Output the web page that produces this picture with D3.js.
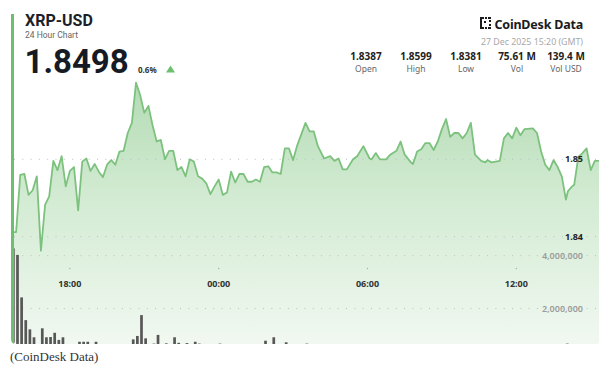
<!DOCTYPE html>
<html lang="en">
<head>
  <meta charset="UTF-8">
  <title>XRP-USD 24 Hour Chart</title>
  <script src="https://cdn.jsdelivr.net/npm/d3@7"></script>
  <style>
    html, body { margin: 0; padding: 0; background: #fff; }
    svg { display: block; font-family: "Noto Sans", "Open Sans", sans-serif; }
    .hdr { font-family: Roboto, "Noto Sans", sans-serif; }
  </style>
</head>
<body>
<div id="chart"></div>

<script>
// price, 10 min steps (26 Dec 15:40 -> 27 Dec 15:20 GMT)
const priceTimes = [
  "15:40","15:50","16:00","16:10","16:20","16:30","16:40","16:50","17:00","17:10","17:20","17:30","17:40","17:50",
  "18:00","18:10","18:20","18:30","18:40","18:50","19:00","19:10","19:20","19:30","19:40","19:50",
  "20:00","20:10","20:20","20:30","20:40","20:50","21:00","21:10","21:20","21:30","21:40","21:50",
  "22:00","22:10","22:20","22:30","22:40","22:50","23:00","23:10","23:20","23:30","23:40","23:50",
  "00:00","00:10","00:20","00:30","00:40","00:50","01:00","01:10","01:20","01:30","01:40","01:50",
  "02:00","02:10","02:20","02:30","02:40","02:50","03:00","03:10","03:30","03:40","03:50",
  "04:00","04:15","04:30","04:40","04:50","05:00","05:10","05:25","05:35","05:50",
  "06:05","06:10","06:20","06:30","06:45","06:55","07:10","07:20","07:30","07:45","07:50",
  "08:00","08:10","08:20","08:30","08:40","08:50","09:00","09:10","09:20","09:30","09:40","09:50",
  "10:00","10:10","10:20","10:35","10:45","10:50","11:00","11:20","11:30","11:40","11:50",
  "12:00","12:10","12:20","12:40","12:50","13:00","13:10","13:20","13:30","13:40","13:50",
  "14:00","14:05","14:15","14:20","14:30","14:40","14:50","15:00","15:10","15:20"
];
const prices = [
  1.8406,1.8406,1.8480,1.8481,1.8454,1.8460,1.8478,1.8382,1.8441,1.8452,1.8498,1.8486,1.8504,1.8465,
  1.8485,1.8490,1.8434,1.8497,1.8501,1.8485,1.8494,1.8484,1.8477,1.8493,1.8499,1.8493,
  1.8510,1.8511,1.8534,1.8547,1.8599,1.8583,1.8560,1.8569,1.8544,1.8523,1.8525,1.8500,
  1.8511,1.8511,1.8486,1.8490,1.8478,1.8500,1.8497,1.8478,1.8475,1.8469,1.8455,1.8465,
  1.8474,1.8454,1.8457,1.8484,1.8470,1.8481,1.8481,1.8471,1.8471,1.8474,1.8471,1.8490,
  1.8491,1.8483,1.8483,1.8481,1.8514,1.8514,1.8499,1.8518,1.8547,1.8536,1.8536,
  1.8517,1.8501,1.8504,1.8498,1.8501,1.8487,1.8487,1.8500,1.8504,1.8517,
  1.8501,1.8500,1.8508,1.8500,1.8500,1.8506,1.8511,1.8523,1.8506,1.8496,1.8494,
  1.8510,1.8513,1.8521,1.8521,1.8512,1.8523,1.8539,1.8552,1.8529,1.8534,1.8534,1.8527,
  1.8534,1.8547,1.8506,1.8498,1.8496,1.8499,1.8496,1.8498,1.8527,1.8534,1.8527,
  1.8541,1.8531,1.8539,1.8540,1.8534,1.8510,1.8493,1.8486,1.8499,1.8490,1.8478,
  1.8448,1.8459,1.8465,1.8467,1.8503,1.8508,1.8514,1.8486,1.8498,1.8498
];

// volume bars (only the ones that show above the frame)
const volTimes = [
  "15:40","15:50","16:00","16:10","16:20","16:30","16:50","17:00","17:10","17:20","17:30","17:40",
  "18:20","18:30","18:40","19:00","20:30","20:40","20:50","21:00","21:20","21:30","21:50",
  "22:10","22:20","22:40","23:00","23:10","00:00","01:50","02:10","02:40","03:30","14:00"
];
const volumes = [
  4280000,4030000,2420000,1560000,1210000,910000,1250000,910000,920000,1080000,810000,910000,
  740000,740000,740000,740000,830000,960000,1750000,870000,670000,1000000,680000,
  910000,700000,690000,740000,670000,670000,780000,910000,720000,670000,670000
];

const priceTicks = [1.84, 1.85];
const volTicks = [2000000, 4000000];
const timeTicks = ["18:00", "00:00", "06:00", "12:00"];

const statValues = ["1.8387", "1.8599", "1.8381", "75.61 M", "139.4 M"];
const statLabels = ["Open", "High", "Low", "Vol", "Vol USD"];

// turn "HH:MM" into dates, rolling over midnight
function toDates(list) {
  let day = new Date(Date.UTC(2025, 11, 26));
  let prev = -1;
  return list.map(s => {
    const [h, m] = s.split(":").map(Number);
    const mins = h * 60 + m;
    if (mins < prev) day = new Date(day.getTime() + 864e5);
    prev = mins;
    return new Date(day.getTime() + mins * 6e4);
  });
}
const pDates = toDates(priceTimes);
const vDates = toDates(["15:20"].concat(volTimes)).slice(1);
const tDates = toDates(["15:20"].concat(timeTicks)).slice(1);

const W = 600, H = 373;
const plot = { left: 14, right: 599, top: 14, bottom: 344 };

const svg = d3.select("#chart").append("svg")
  .attr("width", W)
  .attr("height", H);

svg.append("rect").attr("width", W).attr("height", H).attr("fill", "#fff");

const x = d3.scaleUtc().domain(d3.extent(pDates)).range([12, 599]);
const y = d3.scaleLinear().domain([1.84, 1.85]).range([236.7, 159.3]);
const yv = d3.scaleLinear().domain([0, 4000000]).range([361.3, 255.7]);

const defs = svg.append("defs");
defs.append("clipPath").attr("id", "plotclip")
  .append("rect")
  .attr("x", plot.left).attr("y", plot.top)
  .attr("width", plot.right - plot.left).attr("height", plot.bottom - plot.top)
  .attr("rx", 3);

const grad = defs.append("linearGradient")
  .attr("id", "areafill")
  .attr("gradientUnits", "userSpaceOnUse")
  .attr("x1", 0).attr("y1", 80).attr("x2", 0).attr("y2", plot.bottom);
grad.append("stop").attr("offset", "0%").attr("stop-color", "#b2dbb3");
grad.append("stop").attr("offset", "45%").attr("stop-color", "#d3ebd3");
grad.append("stop").attr("offset", "100%").attr("stop-color", "#f1f8f1");

const g = svg.append("g").attr("clip-path", "url(#plotclip)");

// area + line
const data = pDates.map((d, i) => ({ t: d, p: prices[i] }));

g.append("path")
  .datum(data)
  .attr("fill", "url(#areafill)")
  .attr("d", d3.area().x(d => x(d.t)).y0(plot.bottom).y1(d => y(d.p)));

// grid lines
const gridY = priceTicks.map(y).concat(volTicks.map(yv));
g.selectAll("line.grid")
  .data(gridY)
  .join("line")
  .attr("class", "grid")
  .attr("x1", plot.left).attr("x2", plot.right)
  .attr("y1", d => d).attr("y2", d => d)
  .attr("stroke", "#b9c2b9")
  .attr("stroke-width", 1)
  .attr("stroke-dasharray", "1,7.3");

// volume bars
g.selectAll("rect.vol")
  .data(volumes)
  .join("rect")
  .attr("class", "vol")
  .attr("x", (d, i) => x(vDates[i]))
  .attr("width", 2.7)
  .attr("y", d => yv(d))
  .attr("height", d => yv(0) - yv(d))
  .attr("fill", "#575757");

g.append("path")
  .datum(data)
  .attr("fill", "none")
  .attr("stroke", "#7cc27e")
  .attr("stroke-width", 1.8)
  .attr("stroke-linejoin", "round")
  .attr("d", d3.line().x(d => x(d.t)).y(d => y(d.p)));

// left accent bar
svg.append("path")
  .attr("d", "M11,14 H14 V344 H16 Q11,344 11,339 Z")
  .attr("fill", "#6dbf6f");

// axis labels
svg.selectAll("text.py")
  .data(priceTicks)
  .join("text")
  .attr("class", "py")
  .attr("x", 583).attr("y", d => y(d))
  .attr("dy", "0.35em")
  .attr("text-anchor", "end")
  .attr("font-size", 9).attr("font-weight", 700)
  .attr("fill", "#222")
  .text(d => d3.format(".2f")(d));

svg.selectAll("text.vy")
  .data(volTicks)
  .join("text")
  .attr("class", "vy")
  .attr("x", 583).attr("y", d => yv(d))
  .attr("dy", "0.35em")
  .attr("text-anchor", "end")
  .attr("font-size", 9).attr("font-weight", 600)
  .attr("fill", "#9c9c9c")
  .text(d => d3.format(",")(d));

svg.selectAll("circle.tick")
  .data(tDates)
  .join("circle")
  .attr("class", "tick")
  .attr("cx", d => x(d)).attr("cy", 268.5)
  .attr("r", 0.7)
  .attr("fill", "#aaa");

svg.selectAll("text.tx")
  .data(tDates)
  .join("text")
  .attr("class", "tx")
  .attr("x", d => x(d)).attr("y", 286.5)
  .attr("text-anchor", "middle")
  .attr("font-size", 9).attr("font-weight", 700)
  .attr("fill", "#333")
  .text(d => d3.utcFormat("%H:%M")(d));

// header left
svg.append("text").attr("class", "hdr").attr("x", 25).attr("y", 25.5)
  .attr("font-size", 16).attr("font-weight", 700).attr("fill", "#1b1f2a")
  .text("XRP-USD");
svg.append("text").attr("class", "hdr").attr("x", 25).attr("y", 37.5)
  .attr("font-size", 8.5).attr("fill", "#666")
  .text("24 Hour Chart");
svg.append("text").attr("class", "hdr").attr("x", 24.5).attr("y", 73)
  .attr("font-size", 33).attr("font-weight", 700).attr("fill", "#151a24")
  .text(d3.format(".4f")(prices[prices.length - 1]));
svg.append("text").attr("x", 138).attr("y", 72.5)
  .attr("font-size", 8).attr("font-weight", 700).attr("fill", "#333")
  .text("0.6%");
svg.append("path")
  .attr("d", "M170.5,65.5 L175,72.5 L166,72.5 Z")
  .attr("fill", "#6dbf6f");

// header right: logo
const logo = svg.append("g").attr("transform", "translate(480,17)").attr("fill", "#1b1b1b");
[[0,0,4,2],[0,0,2,12],[0,10,4,2],[5,0,2,2],[8,0,3,2],[9,3,2,2],[9,7,2,2],[5,10,2,2],[8,10,3,2],[4,4,2,2]]
  .forEach(r => logo.append("rect").attr("x", r[0]).attr("y", r[1]).attr("width", r[2]).attr("height", r[3]));
svg.append("text").attr("x", 583).attr("y", 28.5)
  .attr("text-anchor", "end")
  .attr("font-size", 12.5).attr("font-weight", 700).attr("fill", "#1b1b1b")
  .attr("letter-spacing", -0.2)
  .text("CoinDesk Data");
svg.append("text").attr("x", 583).attr("y", 45)
  .attr("text-anchor", "end")
  .attr("font-size", 8.8).attr("fill", "#a8a8a8")
  .text("27 Dec 2025 15:20 (GMT)");

const statX = [366, 416, 466, 517, 566];
svg.selectAll("text.sv")
  .data(statValues)
  .join("text")
  .attr("class", "sv")
  .attr("x", (d, i) => statX[i]).attr("y", 59.5)
  .attr("text-anchor", "middle")
  .attr("font-size", 10).attr("font-weight", 700).attr("fill", "#222")
  .text(d => d);
svg.selectAll("text.sl")
  .data(statLabels)
  .join("text")
  .attr("class", "sl")
  .attr("x", (d, i) => statX[i]).attr("y", 72)
  .attr("text-anchor", "middle")
  .attr("font-size", 8.5).attr("fill", "#666")
  .text(d => d);

// caption
svg.append("text").attr("x", 10).attr("y", 361)
  .attr("font-family", "'Liberation Serif', 'DejaVu Serif', serif")
  .attr("font-size", 13).attr("fill", "#333")
  .text("(CoinDesk Data)");
</script>
</body>
</html>
